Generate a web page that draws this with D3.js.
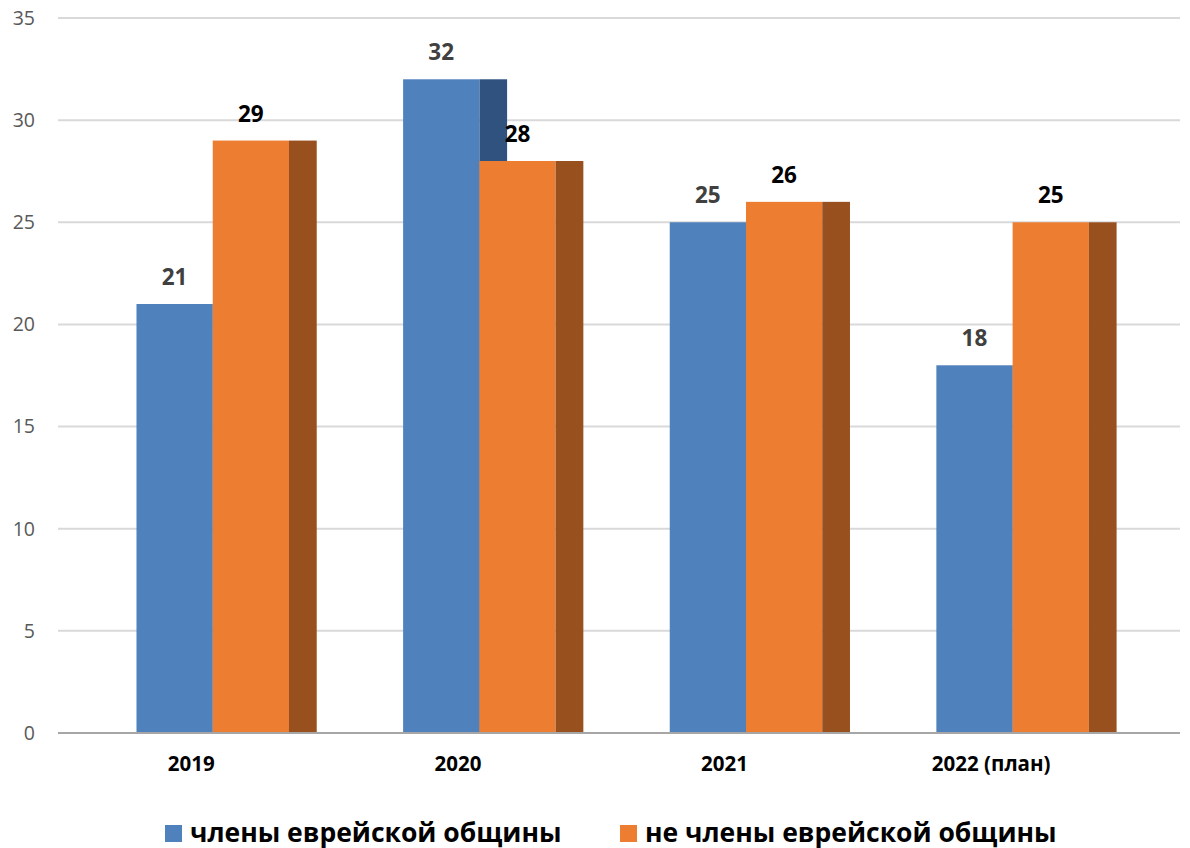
<!DOCTYPE html>
<html>
<head>
<meta charset="utf-8">
<script src="https://cdn.jsdelivr.net/npm/d3@7"></script>
<style>
  body { margin: 0; background: #fff; }
  svg { display: block; font-family: "Open Sans", "Noto Sans", sans-serif; }
</style>
</head>
<body>
<svg id="chart" width="1190" height="848"></svg>
<script>
// data
const categories = ["2019", "2020", "2021", "2022 (план)"];
const members = [21, 32, 25, 18];
const nonMembers = [29, 28, 26, 25];
const yTicks = [0, 5, 10, 15, 20, 25, 30, 35];
const seriesNames = ["члены еврейской общины", "не члены еврейской общины"];

const svg = d3.select("#chart");

const x = d3.scaleBand().domain(categories).range([58.5, 1125]).padding(0);
const y = d3.scaleLinear().domain([0, 35]).range([733, 18]);
const bw = x.bandwidth();
const barW = bw * 0.286, depth = bw * 0.104, off = bw * 0.2925;

const colors = {
  blue: "#4f81bd", blueSide: "#30527f",
  orange: "#ed7d31", orangeSide: "#99501f"
};

// gridlines
svg.append("g").selectAll("line")
  .data(yTicks.filter(d => d > 0))
  .join("line")
  .attr("x1", 58).attr("x2", 1180)
  .attr("y1", d => y(d)).attr("y2", d => y(d))
  .attr("stroke", "#d9d9d9").attr("stroke-width", 2);

// y tick labels
svg.append("g").selectAll("text")
  .data(yTicks)
  .join("text")
  .attr("x", 35).attr("y", d => y(d))
  .attr("dy", "0.35em")
  .attr("text-anchor", "end")
  .attr("font-size", 19.5)
  .attr("fill", "#595959")
  .text(d => d);

// bars
const groups = svg.append("g").selectAll("g")
  .data(categories.map((c, i) => ({c, a: members[i], b: nonMembers[i]})))
  .join("g");

groups.each(function(d) {
  const g = d3.select(this);
  const xb = x(d.c) + off, xo = xb + barW;
  g.append("rect").attr("x", xb + barW).attr("width", depth)
    .attr("y", y(d.a)).attr("height", y(0) - y(d.a)).attr("fill", colors.blueSide);
  g.append("rect").attr("x", xb).attr("width", barW)
    .attr("y", y(d.a)).attr("height", y(0) - y(d.a)).attr("fill", colors.blue);
  g.append("rect").attr("x", xo).attr("width", barW)
    .attr("y", y(d.b)).attr("height", y(0) - y(d.b)).attr("fill", colors.orange);
  g.append("rect").attr("x", xo + barW).attr("width", depth)
    .attr("y", y(d.b)).attr("height", y(0) - y(d.b)).attr("fill", colors.orangeSide);

  g.append("text").attr("x", xb + barW / 2).attr("y", y(d.a) - 19)
    .attr("text-anchor", "middle").attr("font-size", 22.5).attr("font-weight", "bold")
    .attr("fill", "#404040").text(d.a);
  g.append("text").attr("x", xo + barW / 2).attr("y", y(d.b) - 19)
    .attr("text-anchor", "middle").attr("font-size", 22.5).attr("font-weight", "bold")
    .attr("fill", "#000").text(d.b);
});

// zero axis
svg.append("line")
  .attr("x1", 58).attr("x2", 1180)
  .attr("y1", y(0)).attr("y2", y(0))
  .attr("stroke", "#a6a6a6").attr("stroke-width", 2);

// category labels
svg.append("g").selectAll("text")
  .data(categories)
  .join("text")
  .attr("x", d => x(d) + bw / 2 - 0.5)
  .attr("y", 771)
  .attr("text-anchor", "middle")
  .attr("font-size", 20.5)
  .attr("font-weight", "bold")
  .text(d => d);

// legend
const legend = svg.append("g").selectAll("g")
  .data(seriesNames)
  .join("g")
  .attr("transform", (d, i) => `translate(${i ? 620 : 165},825)`);
legend.append("rect").attr("width", 17).attr("height", 17)
  .attr("fill", (d, i) => i ? colors.orange : colors.blue);
legend.append("text").attr("x", 25).attr("y", 16.5)
  .attr("font-size", 26.5).attr("font-weight", "bold")
  .text(d => d);
</script>
</body>
</html>
